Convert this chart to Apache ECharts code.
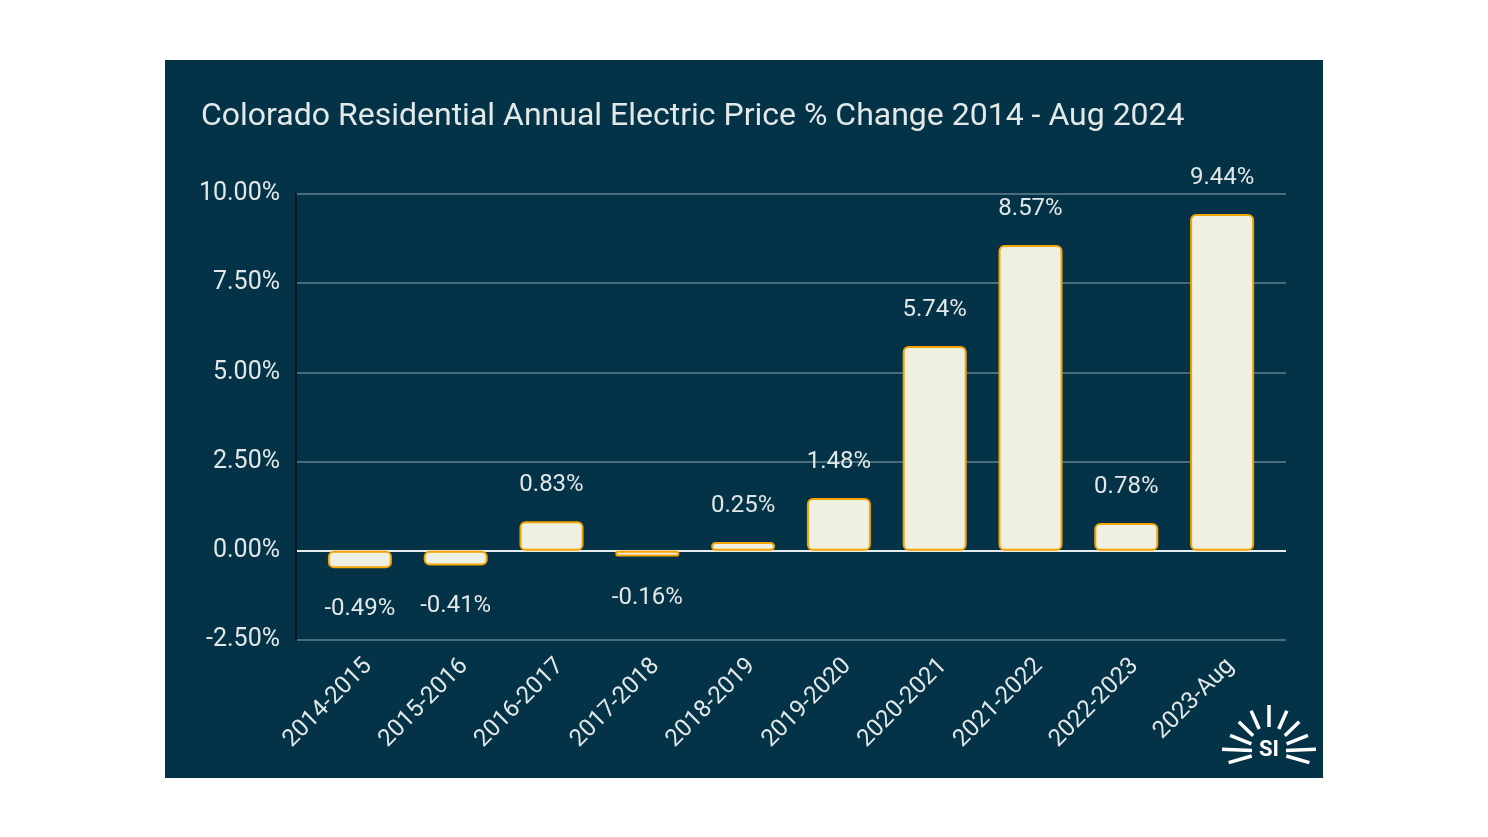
<!DOCTYPE html>
<html>
<head>
<meta charset="utf-8">
<script src="https://cdn.jsdelivr.net/npm/echarts@6/dist/echarts.min.js"></script>
<style>
html,body{margin:0;padding:0;background:#ffffff;}
#wrap{position:relative;width:1488px;height:837px;background:#ffffff;}
#panel{position:absolute;left:165px;top:60px;width:1158px;height:718px;background:#043246;}
#chart{position:absolute;left:0;top:0;width:1488px;height:837px;}
</style>
</head>
<body>
<div id="wrap"><div id="panel"></div><div id="chart"></div></div>
<script>
const titleText = 'Colorado Residential Annual Electric Price % Change 2014 - Aug 2024';
const categories = ['2014-2015','2015-2016','2016-2017','2017-2018','2018-2019','2019-2020','2020-2021','2021-2022','2022-2023','2023-Aug'];
const priceChange = [-0.49, -0.41, 0.83, -0.16, 0.25, 1.48, 5.74, 8.57, 0.78, 9.44];
const yMin = -2.5, yMax = 10, yStep = 2.5;

const font = 'Roboto, "Noto Sans", sans-serif';
const chart = echarts.init(document.getElementById('chart'), null, {renderer:'canvas'});

// logo rays (decoration)
const cx = 1269, cy = 751;
const rays = [
  {a:90, r0:24, r1:46},
  {a:66, r0:24, r1:44},
  {a:44, r0:22, r1:42},
  {a:22, r0:19, r1:42},
  {a:2,  r0:17, r1:47},
  {a:-16,r0:18, r1:42},
  {a:114,r0:24, r1:44},
  {a:136,r0:22, r1:42},
  {a:158,r0:19, r1:42},
  {a:178,r0:17, r1:47},
  {a:196,r0:18, r1:42}
];
const rayEls = rays.map(r => {
  const t = r.a*Math.PI/180;
  return {type:'line', shape:{x1:cx+r.r0*Math.cos(t), y1:cy-r.r0*Math.sin(t), x2:cx+r.r1*Math.cos(t), y2:cy-r.r1*Math.sin(t)},
    style:{stroke:'#ffffff', lineWidth:3.5, lineCap:'butt'}};
});

const gridColor = '#4a6d7d';
chart.setOption({
  backgroundColor:'transparent',
  animation:false,
  title:{
    text:titleText, left:196, top:96,
    textStyle:{color:'#e3e9e8', fontSize:32, fontWeight:'normal', fontFamily:font}
  },
  grid:[
    {left:312, right:218, top:194, bottom:197, containLabel:false},
    {left:296, right:202, top:194, bottom:197, containLabel:false}
  ],
  xAxis:[{
    type:'category', data:categories, gridIndex:0,
    axisLine:{show:false}, axisTick:{show:false},
    axisLabel:{
      rotate:45, interval:0, color:'#e2e8e8', fontSize:24, fontFamily:font,
      margin:14, align:'right', verticalAlign:'top'
    }
  },{
    type:'value', gridIndex:1, show:false, min:0, max:1
  }],
  yAxis:[{
    type:'value', gridIndex:0, min:yMin, max:yMax, interval:yStep, show:false
  },{
    type:'value', gridIndex:1, min:yMin, max:yMax, interval:yStep,
    axisLine:{show:true, lineStyle:{color:'#081820', width:2}},
    axisTick:{show:false},
    axisLabel:{color:'#e2e8e8', fontSize:25, fontFamily:font, margin:16, padding:[3,0,0,0],
      formatter: v => v.toFixed(2)+'%'},
    splitLine:{show:true, lineStyle:{color:[gridColor,'#e6ecee',gridColor,gridColor,gridColor,gridColor], width:2}}
  }],
  series:[{
    type:'bar', barWidth:64, xAxisIndex:0, yAxisIndex:0,
    data: priceChange.map(v => ({value:v, label:{position: v<0?'bottom':'top', distance: v<0?29:24}})),
    itemStyle:{color:'#eef0e2', borderColor:'#f5a300', borderWidth:2, borderRadius:5},
    label:{show:true, color:'#e2e8e8', fontSize:24, fontFamily:font,
      formatter: p => p.value.toFixed(2)+'%'}
  }],
  graphic:[
    {type:'group', children: rayEls.concat([
      {type:'text', style:{text:'SI', x:cx, y:cy-1, align:'center', verticalAlign:'middle', fill:'#ffffff', font:'bold 22px Roboto, sans-serif'}}
    ])}
  ]
});
</script>
</body>
</html>
